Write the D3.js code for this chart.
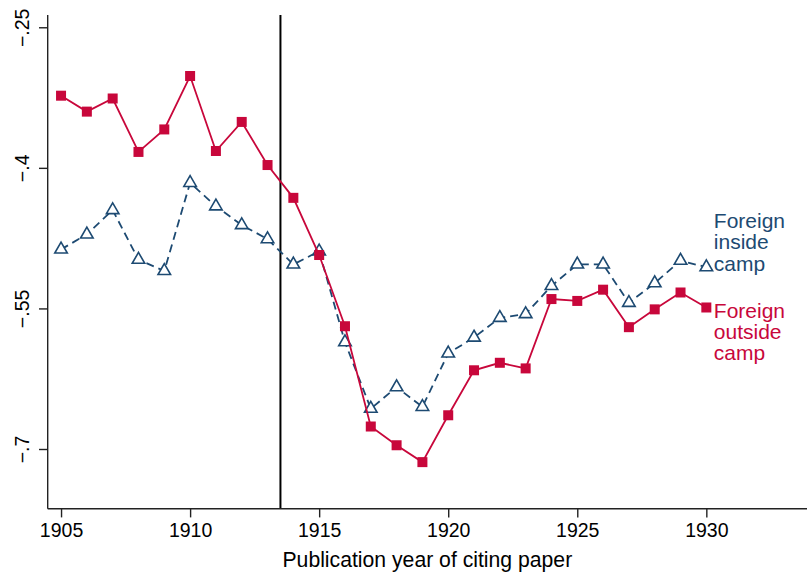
<!DOCTYPE html>
<html>
<head>
<meta charset="utf-8">
<script src="https://cdn.jsdelivr.net/npm/d3@7"></script>
<style>
  html, body { margin: 0; padding: 0; background: #fff; }
  svg { display: block; }
  text { font-family: "Liberation Sans", Arial, Helvetica, sans-serif; }
</style>
</head>
<body>
<svg id="chart" width="807" height="576"></svg>
<script>
const years = [1905,1906,1907,1908,1909,1910,1911,1912,1913,1914,1915,1916,1917,1918,1919,1920,1921,1922,1923,1924,1925,1926,1927,1928,1929,1930];
const outsideCamp = [-0.323,-0.340,-0.326,-0.383,-0.359,-0.302,-0.382,-0.351,-0.397,-0.432,-0.493,-0.569,-0.676,-0.696,-0.714,-0.664,-0.616,-0.608,-0.614,-0.540,-0.542,-0.530,-0.570,-0.551,-0.533,-0.549];
const insideCamp = [-0.487,-0.471,-0.445,-0.498,-0.510,-0.416,-0.441,-0.461,-0.476,-0.503,-0.489,-0.586,-0.657,-0.634,-0.655,-0.598,-0.581,-0.560,-0.556,-0.526,-0.503,-0.503,-0.544,-0.523,-0.499,-0.506];
const xTicks = [1905,1910,1915,1920,1925,1930];
const yTicks = [-0.25,-0.4,-0.55,-0.7];
const yTickLabels = ["\u2212.25","\u2212.4","\u2212.55","\u2212.7"];
const insideLabel = ["Foreign","inside","camp"];
const outsideLabel = ["Foreign","outside","camp"];
const eventYear = 1913.5;
const xTitle = "Publication year of citing paper";

const RED = "#c8073b", BLUE = "#1d4a72";
const svg = d3.select("#chart");
const L = 47.7, R = 807, T = 15, B = 508.7;
const x = d3.scaleLinear().domain([1904.483, 1933.9]).range([L, R]);
const y = d3.scaleLinear().domain([-0.7637, -0.2369]).range([B, T]);

// event line
svg.append("line").attr("x1", x(eventYear)).attr("x2", x(eventYear))
  .attr("y1", T).attr("y2", B).attr("stroke", "#000").attr("stroke-width", 2);

// axes
const xAxis = d3.axisBottom(x).tickValues(xTicks).tickFormat(d3.format("d")).tickSize(8.7).tickPadding(6);
const gx = svg.append("g").attr("transform", `translate(0,${B})`).call(xAxis);
gx.select(".domain").attr("d", `M${L},0H${R}`).attr("stroke", "#222").attr("stroke-width", 1.4);
gx.selectAll(".tick line").attr("stroke", "#222").attr("stroke-width", 1.4);
gx.selectAll(".tick text").attr("font-size", 19.5).attr("fill", "#000")
  .attr("font-family", "Liberation Sans, Arial, sans-serif");

const yAxis = d3.axisLeft(y).tickValues(yTicks).tickFormat((d, i) => yTickLabels[i]).tickSize(8.7).tickPadding(0);
const gy = svg.append("g").attr("transform", `translate(${L},0)`).call(yAxis);
gy.select(".domain").attr("d", `M0,${T}V${B}`).attr("stroke", "#222").attr("stroke-width", 1.4);
gy.selectAll(".tick line").attr("stroke", "#222").attr("stroke-width", 1.4);
gy.selectAll(".tick text")
  .attr("font-size", 19.5).attr("fill", "#000")
  .attr("font-family", "Liberation Sans, Arial, sans-serif")
  .attr("x", null).attr("dy", null)
  .attr("text-anchor", "middle")
  .attr("transform", "translate(-18.5,0) rotate(-90)");

// x title
svg.append("text").attr("x", (L + R) / 2).attr("y", 567.3).attr("text-anchor", "middle")
  .attr("font-size", 21.2).attr("fill", "#000").text(xTitle);

const line = d3.line().x(d => x(d[0])).y(d => y(d[1]));
const insideData = years.map((yr, i) => [yr, insideCamp[i]]);
const outsideData = years.map((yr, i) => [yr, outsideCamp[i]]);

// inside camp (blue dashed, hollow triangles)
svg.append("path").datum(insideData).attr("d", line).attr("fill", "none")
  .attr("stroke", BLUE).attr("stroke-width", 1.8).attr("stroke-dasharray", "8,5");
const tri = d3.symbol().type(d3.symbolTriangle).size(68);
svg.append("g").selectAll("path").data(insideData).join("path")
  .attr("d", tri).attr("transform", d => `translate(${x(d[0])},${y(d[1])})`)
  .attr("fill", "#fff").attr("stroke", BLUE).attr("stroke-width", 1.6);

// outside camp (red solid, squares)
svg.append("path").datum(outsideData).attr("d", line).attr("fill", "none")
  .attr("stroke", RED).attr("stroke-width", 1.8);
svg.append("g").selectAll("rect").data(outsideData).join("rect")
  .attr("x", d => x(d[0]) - 5).attr("y", d => y(d[1]) - 5)
  .attr("width", 10).attr("height", 10).attr("fill", RED);

// labels
const lastIn = insideData[insideData.length - 1];
const lastOut = outsideData[outsideData.length - 1];
const gIn = svg.append("text").attr("fill", BLUE).attr("font-size", 21);
insideLabel.forEach((t, i) => {
  gIn.append("tspan").attr("x", x(lastIn[0]) + 7.5).attr("y", y(lastIn[1]) - 39 + i * 21.3).text(t);
});
const gOut = svg.append("text").attr("fill", RED).attr("font-size", 21);
outsideLabel.forEach((t, i) => {
  gOut.append("tspan").attr("x", x(lastOut[0]) + 7.5).attr("y", y(lastOut[1]) + 10.6 + i * 20.8).text(t);
});
</script>
</body>
</html>
